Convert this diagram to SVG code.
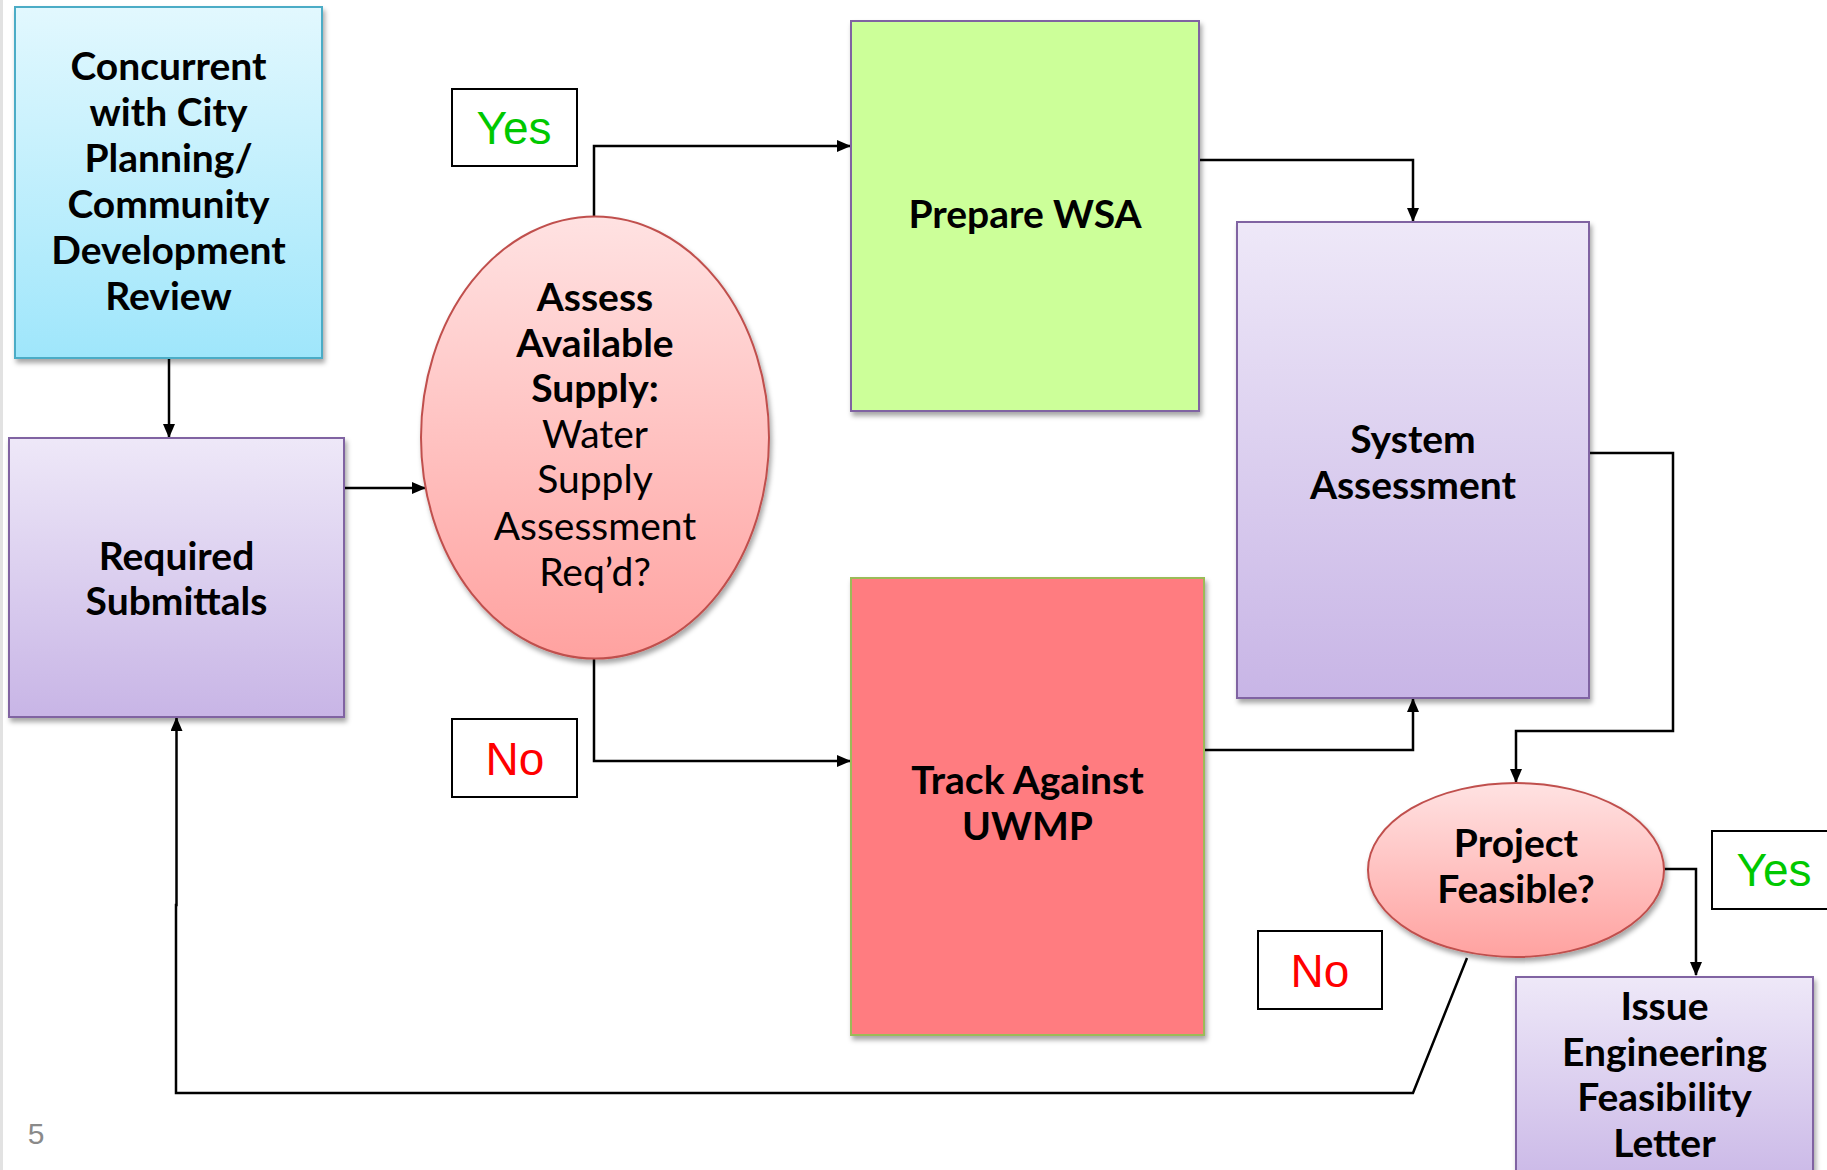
<svg xmlns="http://www.w3.org/2000/svg" width="1827" height="1170" viewBox="0 0 1827 1170">
<style>
.lbl{font-family:Lato,"Open Sans","Liberation Sans",sans-serif;font-weight:700;font-size:39px;fill:#000;text-anchor:middle}
.reg{font-weight:400}
.yn{font-family:"Liberation Sans",Arial,sans-serif;font-size:46px;text-anchor:middle}
.ynbox{fill:#fff;stroke:#000;stroke-width:2}
.con{fill:none;stroke:#000;stroke-width:2.5}
.purple{fill:url(#gPurple);stroke:#8064a2;stroke-width:2}
</style>
<defs>
<linearGradient id="gCyan" x1="0" y1="0" x2="0" y2="1"><stop offset="0" stop-color="#e2f8fe"/><stop offset="1" stop-color="#9fe6fb"/></linearGradient>
<linearGradient id="gPurple" x1="0" y1="0" x2="0" y2="1"><stop offset="0" stop-color="#eee8f8"/><stop offset="1" stop-color="#c8b5e6"/></linearGradient>
<linearGradient id="gPink" x1="0" y1="0" x2="0" y2="1"><stop offset="0" stop-color="#ffe2e2"/><stop offset="1" stop-color="#ffa2a0"/></linearGradient>
<filter id="sh" x="-10%" y="-10%" width="120%" height="120%"><feDropShadow dx="2" dy="4" stdDeviation="2.5" flood-color="#000" flood-opacity="0.35"/></filter>
<marker id="ah" markerUnits="userSpaceOnUse" markerWidth="14" markerHeight="12" refX="13" refY="6" orient="auto"><path d="M0,0 L14,6 L0,12 z" fill="#000"/></marker>
</defs>
<rect x="0" y="0" width="1827" height="1170" fill="#fff"/>
<rect x="0" y="0" width="3" height="1170" fill="#e2e2e2"/>

<g id="connectors">
<path class="con" d="M169,358 V437" marker-end="url(#ah)"/>
<path class="con" d="M345,488 H425" marker-end="url(#ah)"/>
<path class="con" d="M594,217 V146 H850" marker-end="url(#ah)"/>
<path class="con" d="M594,658 V761 H850" marker-end="url(#ah)"/>
<path class="con" d="M1199,160 H1413 V221" marker-end="url(#ah)"/>
<path class="con" d="M1204,750 H1413 V699" marker-end="url(#ah)"/>
<path class="con" d="M1589,453 H1673 V731 H1516 V782" marker-end="url(#ah)"/>
<path class="con" d="M1664,869 H1696 V975" marker-end="url(#ah)"/>
<path class="con" d="M1467,958 L1413,1093 H176 V905 L176.5,905 V718" marker-end="url(#ah)"/>
</g>

<g id="concurrent">
<rect x="15" y="7" width="307" height="351" fill="url(#gCyan)" stroke="#4bacc6" stroke-width="2" filter="url(#sh)"/>
<text class="lbl"><tspan x="168.5" y="80">Concurrent</tspan><tspan x="168.5" y="126">with City</tspan><tspan x="168.5" y="172">Planning/</tspan><tspan x="168.5" y="218">Community</tspan><tspan x="168.5" y="264">Development</tspan><tspan x="168.5" y="310">Review</tspan></text>
</g>

<g id="required-submittals">
<rect class="purple" x="9" y="438" width="335" height="279" filter="url(#sh)"/>
<text class="lbl"><tspan x="176.5" y="570">Required</tspan><tspan x="176.5" y="615">Submittals</tspan></text>
</g>

<g id="assess-supply">
<ellipse cx="595" cy="437.5" rx="174" ry="221" fill="url(#gPink)" stroke="#c0504d" stroke-width="2" filter="url(#sh)"/>
<text class="lbl"><tspan x="595" y="311">Assess</tspan><tspan x="595" y="357">Available</tspan><tspan x="595" y="402">Supply:</tspan><tspan class="reg" x="595" y="448">Water</tspan><tspan class="reg" x="595" y="493">Supply</tspan><tspan class="reg" x="595" y="540">Assessment</tspan><tspan class="reg" x="595" y="586">Req’d?</tspan></text>
</g>

<g id="yes-top">
<rect class="ynbox" x="452" y="89" width="125" height="77"/>
<text class="yn" x="514" y="144" fill="#00c800">Yes</text>
</g>

<g id="no-left">
<rect class="ynbox" x="452" y="719" width="125" height="78"/>
<text class="yn" x="515" y="775" fill="#ff0000">No</text>
</g>

<g id="prepare-wsa">
<rect x="851" y="21" width="348" height="390" fill="#ccff99" stroke="#8064a2" stroke-width="2" filter="url(#sh)"/>
<text class="lbl" x="1025" y="228">Prepare WSA</text>
</g>

<g id="track-uwmp">
<rect x="851" y="578" width="353" height="457" fill="#ff7c80" stroke="#9bbb59" stroke-width="2" filter="url(#sh)"/>
<text class="lbl"><tspan x="1027.5" y="794">Track Against</tspan><tspan x="1027.5" y="840">UWMP</tspan></text>
</g>

<g id="system-assessment">
<rect class="purple" x="1237" y="222" width="352" height="476" filter="url(#sh)"/>
<text class="lbl"><tspan x="1413" y="453">System</tspan><tspan x="1413" y="499">Assessment</tspan></text>
</g>

<g id="project-feasible">
<ellipse cx="1516" cy="870" rx="148" ry="87" fill="url(#gPink)" stroke="#c0504d" stroke-width="2" filter="url(#sh)"/>
<text class="lbl"><tspan x="1516" y="857">Project</tspan><tspan x="1516" y="903">Feasible?</tspan></text>
</g>

<g id="yes-right">
<rect class="ynbox" x="1712" y="831" width="130" height="78"/>
<text class="yn" x="1774" y="886" fill="#00c800">Yes</text>
</g>

<g id="no-right">
<rect class="ynbox" x="1258" y="931" width="124" height="78"/>
<text class="yn" x="1320" y="987" fill="#ff0000">No</text>
</g>

<g id="issue-letter">
<rect class="purple" x="1516" y="977" width="297" height="220" filter="url(#sh)"/>
<text class="lbl"><tspan x="1664.5" y="1020">Issue</tspan><tspan x="1664.5" y="1066">Engineering</tspan><tspan x="1664.5" y="1111">Feasibility</tspan><tspan x="1664.5" y="1157">Letter</tspan></text>
</g>

<text x="36" y="1144" font-family="Liberation Sans,Arial,sans-serif" font-size="30" fill="#8a8a8a" text-anchor="middle">5</text>
</svg>
